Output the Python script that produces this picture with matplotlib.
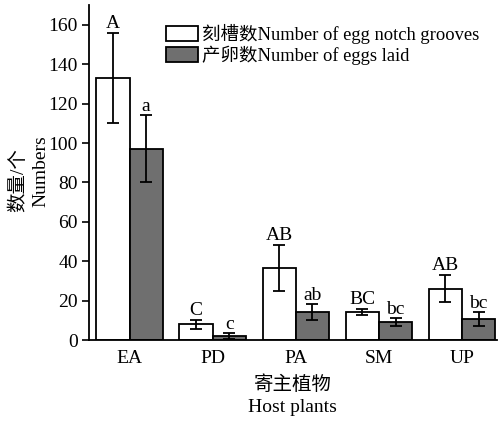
import matplotlib
matplotlib.use("Agg")
import matplotlib.pyplot as plt
import numpy as np

plt.rcParams['font.family'] = ['Liberation Serif', 'Noto Sans CJK SC']

categories = ["EA", "PD", "PA", "SM", "UP"]
grooves = [133, 8.1, 36.7, 14.2, 26.2]
grooves_err = [23, 2.3, 11.6, 1.6, 7.0]
eggs = [97, 2.0, 14.2, 9.0, 10.7]
eggs_err = [17, 1.4, 4.0, 2.0, 3.4]
grooves_letters = ["A", "C", "AB", "BC", "AB"]
eggs_letters = ["a", "c", "ab", "bc", "bc"]
legend_labels = ["刻槽数Number of egg notch grooves", "产卵数Number of eggs laid"]

fig = plt.figure(figsize=(4.99, 4.21), dpi=100)
ax = fig.add_axes([0.178, 0.192, 0.818, 0.796])

x = np.arange(len(categories))
w = 0.4
ekw = dict(ecolor='black', elinewidth=1.3, capsize=4, capthick=1.3)
b1 = ax.bar(x - w/2, grooves, w, yerr=grooves_err, color='white', edgecolor='black',
            linewidth=1.3, error_kw=ekw, label=legend_labels[0])
b2 = ax.bar(x + w/2, eggs, w, yerr=eggs_err, color='#6f6f6f', edgecolor='black',
            linewidth=1.3, error_kw=ekw, label=legend_labels[1])

fs = 14
for i in range(len(categories)):
    ax.text(x[i] - w/2, grooves[i] + grooves_err[i] + 0.3, grooves_letters[i],
            ha='center', va='bottom', fontsize=fs)
    ax.text(x[i] + w/2, eggs[i] + eggs_err[i] + 0.3, eggs_letters[i],
            ha='center', va='bottom', fontsize=fs)

ax.set_xlim(-0.49, 4.42)
ax.set_ylim(0, 170)
ax.set_yticks(np.arange(0, 161, 20))
ax.set_xticks(x)
ax.set_xticklabels(categories, fontsize=fs)
ax.tick_params(axis='y', labelsize=fs, direction='out', length=5, width=1.2, pad=3)
ax.tick_params(axis='x', length=0, pad=7)
for s in ['top', 'right']:
    ax.spines[s].set_visible(False)
for s in ['left', 'bottom']:
    ax.spines[s].set_linewidth(1.3)

fig.text(0.587, 1 - 385/421, "寄主植物", ha='center', va='center', fontsize=fs)
fig.text(0.587, 1 - 408/421, "Host plants", ha='center', va='center', fontsize=fs)
fig.text(18/499, 1 - 180/421, "数量/个", ha='center', va='center', rotation=90, fontsize=fs)
fig.text(41/499, 1 - 171/421, "Numbers", ha='center', va='center', rotation=90, fontsize=fs)

lfs = 13.3
leg = ax.legend(loc='upper left', bbox_to_anchor=(0.188, 0.943), frameon=False, fontsize=lfs,
                handlelength=1.75, handleheight=0.85, handletextpad=0.2, labelspacing=0.05,
                borderaxespad=0, borderpad=0)

fig.savefig("out.png", dpi=100)
